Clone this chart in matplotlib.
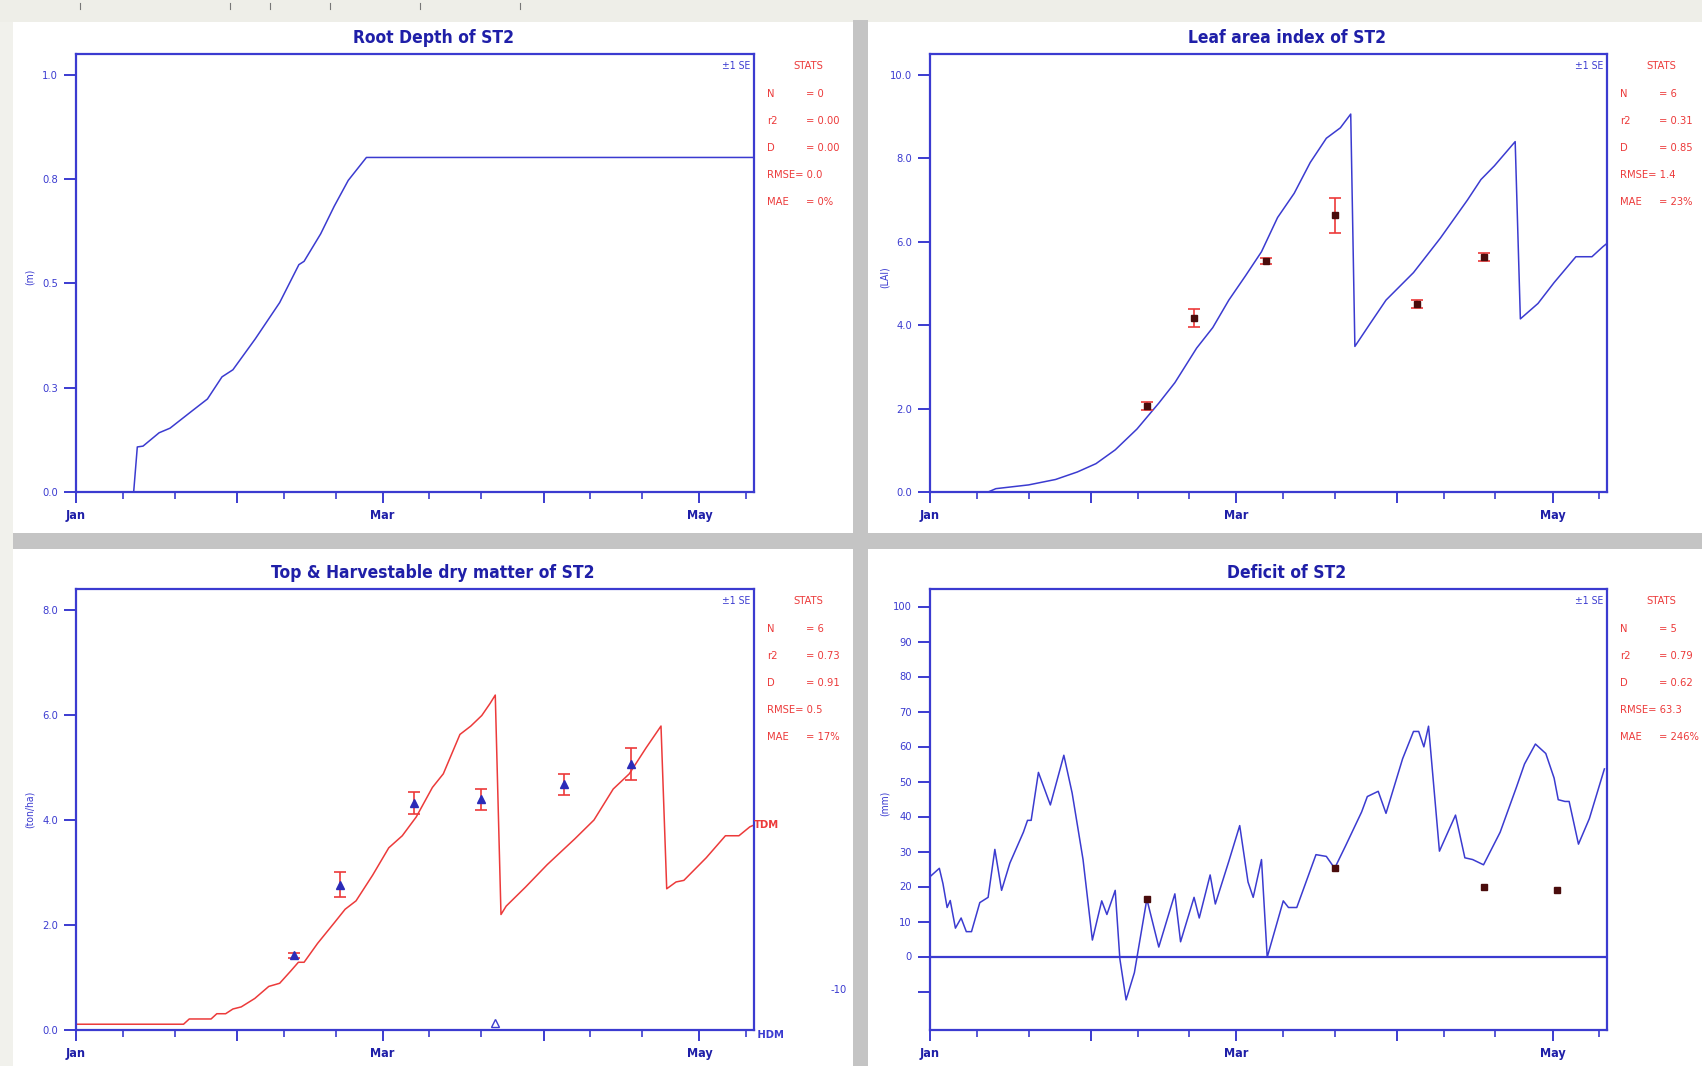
import matplotlib
matplotlib.use('Agg')
import matplotlib.pyplot as plt
from matplotlib.patches import Rectangle

W, H = 1702, 1066

# ---------------- data (x = day of year, 0 = 1 Jan) ----------------
month_days = [0, 31, 59, 90, 120]
month_labels = ['Jan', '', 'Mar', '', 'May']
minor_days = [9, 19, 40, 50, 68, 78, 99, 109, 129]

root_day = [0, 11.1, 11.8, 12.9, 16.0, 18.1, 22.3, 25.3, 28.1, 30.2, 34.5, 39.2,
            42.9, 43.9, 47.1, 49.7, 52.4, 55.9, 130.4]
root_val = [0, 0, 0.108, 0.11, 0.142, 0.153, 0.194, 0.223, 0.276, 0.293, 0.367,
            0.454, 0.545, 0.553, 0.619, 0.685, 0.747, 0.802, 0.802]
root_ticks = [0, 0.25, 0.5, 0.75, 1.0]
root_ticklabels = ['0.0', '0.3', '0.5', '0.8', '1.0']
root_stats = ['0', '0.00', '0.00', '0.0', '0%']

lai_day = [0, 11.2, 12.7, 19, 24.2, 28.4, 32, 35.7, 39.9, 44.1, 47.2, 51.4, 54.5,
           57.6, 60.8, 63.9, 67, 70.2, 73.3, 76.4, 79.1, 81.1, 81.9, 84.8, 87.9,
           93.2, 98.4, 103.6, 106.2, 108.8, 112.8, 113.8, 117.2, 120.3, 124.5,
           127.6, 129.7, 130.4]
lai_val = [0, 0, 0.08, 0.17, 0.30, 0.48, 0.68, 1.01, 1.51, 2.13, 2.62, 3.45, 3.94,
           4.6, 5.18, 5.76, 6.58, 7.16, 7.9, 8.48, 8.73, 9.06, 3.49, 4.03, 4.6,
           5.26, 6.09, 7.0, 7.49, 7.82, 8.4, 4.15, 4.52, 5.02, 5.64, 5.64, 5.88, 5.95]
lai_obs_day = [41.8, 50.8, 64.8, 78.0, 93.9, 106.7]
lai_obs_val = [2.06, 4.17, 5.54, 6.63, 4.50, 5.64]
lai_obs_se = [0.10, 0.22, 0.08, 0.42, 0.10, 0.10]
lai_ticks = [0, 2, 4, 6, 8, 10]
lai_ticklabels = ['0.0', '2.0', '4.0', '6.0', '8.0', '10.0']
lai_stats = ['6', '0.31', '0.85', '1.4', '23%']

tdm_day = [0, 20.7, 21.8, 26, 27.1, 28.8, 30.2, 31.8, 34.4, 37.1, 39.2, 41.3, 42.8,
           43.9, 46.5, 49.7, 51.8, 53.9, 57.1, 60.2, 62.8, 65.5, 68.6, 70.7, 73.9,
           76, 78.1, 79.7, 80.7, 81.8, 82.8, 86.5, 90.7, 96, 99.7, 103.4, 106.5,
           109.7, 112.6, 113.7, 115.5, 117, 121.3, 125, 127.6, 129.7, 130.4]
tdm_val = [0.11, 0.11, 0.21, 0.21, 0.31, 0.31, 0.40, 0.44, 0.60, 0.83, 0.89, 1.12,
           1.29, 1.29, 1.65, 2.04, 2.30, 2.46, 2.95, 3.47, 3.70, 4.06, 4.62, 4.88,
           5.63, 5.79, 5.99, 6.22, 6.38, 2.20, 2.36, 2.72, 3.15, 3.64, 4.0, 4.59,
           4.88, 5.37, 5.79, 2.69, 2.82, 2.85, 3.28, 3.70, 3.70, 3.87, 3.90]
tdm_obs_day = [42.0, 50.8, 65.0, 78.0, 93.9, 106.8]
tdm_obs_val = [1.42, 2.77, 4.32, 4.40, 4.68, 5.07]
tdm_obs_se = [0.05, 0.24, 0.21, 0.20, 0.20, 0.30]
hdm_obs_day = [80.7]
hdm_obs_val = [0.05]
tdm_ticks = [0, 2, 4, 6, 8]
tdm_ticklabels = ['0.0', '2.0', '4.0', '6.0', '8.0']
tdm_stats = ['6', '0.73', '0.91', '0.5', '17%']

def_day = [0, 1.8, 2.5, 3.3, 3.9, 4.9, 6.0, 7.0, 8.0, 9.6, 11.2, 12.5, 13.8, 15.4,
           18.0, 18.8, 19.5, 20.9, 23.2, 25.8, 27.4, 29.5, 31.3, 33.1, 34.1, 35.7,
           36.6, 37.8, 39.4, 41.8, 44.1, 47.2, 48.3, 50.9, 51.9, 54.0, 55.0, 57.6,
           59.7, 61.3, 62.3, 63.9, 65.0, 68.1, 69.1, 70.7, 74.4, 76.4, 78.0, 80.1,
           83.2, 84.3, 86.4, 87.9, 91.1, 93.2, 94.2, 95.2, 96.1, 98.2, 101.3, 103.1,
           104.6, 106.7, 109.9, 113.0, 114.6, 116.7, 118.7, 120.3, 121.1, 122.4,
           123.2, 125.0, 127.1, 130.0]
def_val = [22.8, 25.2, 20.8, 14.0, 16.0, 8.1, 11.0, 7.1, 7.1, 15.4, 16.9, 30.6, 18.9,
           26.7, 35.5, 38.9, 38.9, 52.6, 43.3, 57.5, 46.7, 27.7, 4.7, 15.9, 12.0,
           18.9, -0.7, -12.4, -4.6, 16.4, 2.7, 17.9, 4.2, 16.9, 11.0, 23.3, 15.0,
           27.2, 37.4, 21.3, 16.9, 27.7, -0.2, 15.9, 14.0, 14.0, 29.1, 28.6, 25.2,
           31.6, 41.3, 45.7, 47.2, 40.9, 56.5, 64.3, 64.3, 59.9, 65.8, 30.1, 40.4,
           28.2, 27.7, 26.2, 35.5, 48.2, 55.0, 60.7, 58.0, 51.0, 44.8, 44.3, 44.3,
           32.1, 39.4, 53.6]
def_obs_day = [41.8, 78.0, 106.7, 120.8]
def_obs_val = [16.4, 25.2, 19.8, 18.9]
def_ticks = [-10, 0, 10, 20, 30, 40, 50, 60, 70, 80, 90, 100]
def_ticklabels = ['', '0', '10', '20', '30', '40', '50', '60', '70', '80', '90', '100']
def_stats = ['5', '0.79', '0.62', '63.3', '246%']

stat_names = ['N', 'r2', 'D', 'RMSE', 'MAE']

# ---------------- style ----------------
BLUE = '#3b3bd0'
TBLUE = '#1f1fa8'
RED = '#ec3a3a'
DARK = '#4a0c0c'
plt.rcParams['font.family'] = ['DejaVu Sans Condensed', 'Liberation Sans Narrow',
                               'DejaVu Sans']
plt.rcParams['font.stretch'] = 'condensed'

fig = plt.figure(figsize=(W / 100, H / 100), dpi=100)
fig.patch.set_facecolor('#f1f1ec')


def fx(x):
    return x / W


def fy(y):
    return 1 - y / H


def rect(x0, y0, x1, y1, color):
    fig.patches.append(Rectangle((fx(x0), fy(y1)), fx(x1 - x0), (y1 - y0) / H,
                                 transform=fig.transFigure, facecolor=color,
                                 edgecolor='none', zorder=-10))


# panels and separators
rect(0, 0, W, 22, '#eeeee8')
rect(13, 22, 853, 533, 'white')
rect(868, 22, W, 533, 'white')
rect(13, 549, 853, H, 'white')
rect(868, 549, W, H, 'white')
rect(853, 20, 868, H, '#c4c4c4')
rect(13, 533, W, 549, '#c4c4c4')
for tx in [80, 230, 270, 330, 420, 520]:
    fig.add_artist(plt.Line2D([fx(tx), fx(tx)], [fy(3), fy(9)], color='#777777', lw=0.8))


def make_ax(l, t, r, b):
    ax = fig.add_axes([fx(l), fy(b), fx(r - l), (b - t) / H])
    ax.set_facecolor('white')
    for s in ax.spines.values():
        s.set_color(BLUE)
        s.set_linewidth(1.6)
    ax.set_xlim(0, 130.5)
    ax.set_xticks(month_days)
    ax.set_xticklabels(month_labels)
    ax.set_xticks(minor_days, minor=True)
    ax.tick_params(axis='x', which='major', direction='out', length=8, width=1.4,
                   color=BLUE, labelcolor=TBLUE, labelsize=9, pad=4)
    ax.tick_params(axis='x', which='minor', direction='out', length=5, width=1.2,
                   color=BLUE)
    ax.tick_params(axis='y', which='major', direction='out', length=9, width=1.4,
                   color=BLUE, labelcolor=BLUE, labelsize=8, pad=4)
    for lab in ax.get_xticklabels():
        lab.set_fontweight('bold')
    return ax


def stats(l, t, r, vals):
    fig.text(fx(r - 4), fy(t + 12), '±1 SE', ha='right', va='center', color=BLUE,
             fontsize=7.5)
    fig.text(fx(r + 54), fy(t + 12), 'STATS', ha='center', va='center', color=RED,
             fontsize=8)
    for i, (n, v) in enumerate(zip(stat_names, vals)):
        y = t + 40 + 27 * i
        if n == 'RMSE':
            fig.text(fx(r + 13), fy(y), 'RMSE= ' + v, ha='left', va='center',
                     color=RED, fontsize=8)
        else:
            fig.text(fx(r + 13), fy(y), n, ha='left', va='center', color=RED, fontsize=8)
            fig.text(fx(r + 52), fy(y), '= ' + v, ha='left', va='center', color=RED,
                     fontsize=8)


def title(l, r, y, s):
    fig.text(fx((l + r) / 2 + 18), fy(y), s, ha='center', va='center', color=TBLUE,
             fontsize=12.5, fontweight='bold')


def ylab(x, y, s):
    fig.text(fx(x), fy(y), s, ha='center', va='center', rotation=90, color=BLUE,
             fontsize=7.5)


# ---- Root depth ----
L1, R1, L2, R2 = 76, 754, 930, 1607
T1, B1, T2, B2 = 54, 492, 589, 1030

ax1 = make_ax(L1, T1, R1, B1)
ax1.plot(root_day, root_val, color=BLUE, lw=1.1)
ax1.set_ylim(0, 1.05)
ax1.set_yticks(root_ticks)
ax1.set_yticklabels(root_ticklabels)
title(L1, R1, 38, 'Root Depth of ST2')
ylab(30, 277, '(m)')
stats(L1, T1, R1, root_stats)

# ---- LAI ----
ax2 = make_ax(L2, T1, R2, B1)
ax2.plot(lai_day, lai_val, color=BLUE, lw=1.1)
ax2.errorbar(lai_obs_day, lai_obs_val, yerr=lai_obs_se, fmt='s', color=DARK,
             ms=4.5, ecolor=RED, elinewidth=1.2, capsize=4.5, capthick=1.2, zorder=5)
ax2.set_ylim(0, 10.5)
ax2.set_yticks(lai_ticks)
ax2.set_yticklabels(lai_ticklabels)
title(L2, R2, 38, 'Leaf area index of ST2')
ylab(885, 277, '(LAI)')
stats(L2, T1, R2, lai_stats)

# ---- Dry matter ----
ax3 = make_ax(L1, T2, R1, B2)
ax3.plot(tdm_day, tdm_val, color=RED, lw=1.1)
ax3.errorbar(tdm_obs_day, tdm_obs_val, yerr=tdm_obs_se, fmt='^', color='#2b2bb8',
             ms=5.5, ecolor=RED, elinewidth=1.2, capsize=4.5, capthick=1.2, zorder=5)
ax3.plot(hdm_obs_day, [v + 0.08 for v in hdm_obs_val], '^', ms=6, mfc='white',
         mec=BLUE, mew=1.0, clip_on=False, zorder=8)
ax3.set_ylim(0, 8.4)
ax3.set_yticks(tdm_ticks)
ax3.set_yticklabels(tdm_ticklabels)
title(L1, R1, 573, 'Top & Harvestable dry matter of ST2')
ylab(30, 809, '(ton/ha)')
stats(L1, T2, R1, tdm_stats)
ax3.text(1.0, tdm_val[-1], 'TDM', transform=ax3.get_yaxis_transform(), ha='left',
         va='center', color=RED, fontsize=8, fontweight='bold')
ax3.text(1.0, 0, ' HDM', transform=ax3.get_yaxis_transform(), ha='left',
         va='top', color=BLUE, fontsize=8, fontweight='bold')
fig.text(fx(839), fy(990), '-10', ha='center', va='center', color=BLUE, fontsize=8)

# ---- Deficit ----
ax4 = make_ax(L2, T2, R2, B2)
ax4.axhline(0, color=BLUE, lw=1.6)
ax4.plot(def_day, def_val, color=BLUE, lw=1.1)
ax4.plot(def_obs_day, def_obs_val, 's', color=DARK, ms=4.5, zorder=5)
ax4.set_ylim(-21, 105)
ax4.set_yticks(def_ticks)
ax4.set_yticklabels(def_ticklabels)
title(L2, R2, 573, 'Deficit of ST2')
ylab(885, 803, '(mm)')
stats(L2, T2, R2, def_stats)

fig.savefig('out.png', dpi=100, facecolor=fig.get_facecolor())
